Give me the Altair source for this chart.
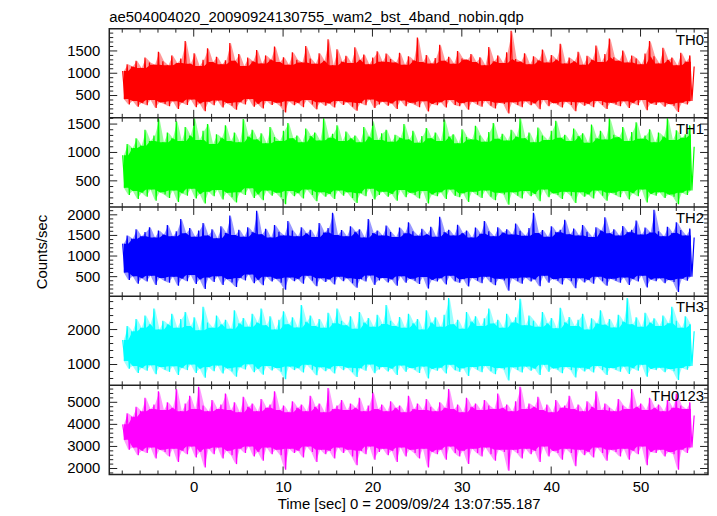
import altair as alt
import pandas as pd

TITLE = "ae504004020_20090924130755_wam2_bst_4band_nobin.qdp"
X_TITLE = "Time [sec] 0 = 2009/09/24 13:07:55.187"
Y_TITLE = "Counts/sec"
FONT = "Liberation Sans"

NAMES = ["TH0", "TH1", "TH2", "TH3", "TH0123"]
COLORS = ["#ff0000", "#00ff00", "#0000ff", "#00ffff", "#ff00ff"]
Y_DOMAINS = [[0, 2000], [40, 1610], [27, 2190], [405, 2955], [1730, 5770]]
Y_MAJOR = [[500, 1000, 1500], [500, 1000, 1500], [500, 1000, 1500, 2000],
           [1000, 2000], [2000, 3000, 4000, 5000]]
Y_MINOR_STEP = [100, 100, 100, 200, 200]
X_DOMAIN = [-9.45, 57.55]
X_MAJOR = [0, 10, 20, 30, 40, 50]
X_MINOR_STEP = 2
T_START = -7.95
T_END = 56.0

# Light-curve extremes (alternating local maxima / minima)
TH0_HI = [1050, 1200, 1150, 1280, 1120, 1350, 1240, 1190, 1480, 1270,
          1180, 1400, 1230, 1330, 1720, 1210, 1450, 1160, 1300, 1560,
          1250, 1370, 1200, 1290, 1680, 1280, 1430, 1160, 1350, 1270,
          1520, 1220, 1400, 1310, 1600, 1250, 1360, 1190, 1470, 1300,
          1240, 1610, 1330, 1210, 1450, 1280, 1760, 1180, 1540, 1260,
          1390, 1230, 1580, 1300, 1420, 1200, 1350, 1490, 1260, 1440,
          1320, 1240, 1460, 1190, 1380, 1290, 1800, 1250, 1410, 1220,
          1340, 1640, 1280, 1370, 1210, 1500, 1330, 1300, 1430, 1250,
          1360, 1180, 1590, 1270, 1400, 1230, 1470, 1950, 1320, 1260,
          1450, 1200, 1380, 1290, 1530, 1240, 1410, 1310, 1660, 1220,
          1350, 1270, 1480, 1190, 1390, 1300, 1620, 1250, 1430, 1780,
          1360, 1280, 1510, 1240, 1400, 1330, 1200, 1440, 1720, 1380,
          1220, 1570, 1300, 1350, 1180, 1460, 1260, 1400, 1150]
TH0_LO = [420, 300, 380, 250, 330, 280, 400, 220, 350, 310,
          260, 370, 200, 340, 290, 410, 240, 320, 150, 360,
          280, 390, 230, 330, 270, 180, 350, 300, 420, 250,
          310, 210, 380, 290, 340, 260, 120, 370, 280, 330,
          240, 400, 300, 190, 350, 270, 320, 230, 380, 290,
          350, 250, 160, 330, 280, 410, 220, 300, 360, 270,
          320, 200, 390, 260, 340, 300, 240, 370, 140, 310,
          280, 350, 230, 400, 290, 260, 330, 180, 360, 300,
          250, 380, 270, 210, 340, 310, 100, 350, 290, 240,
          370, 280, 320, 190, 400, 260, 330, 300, 230, 360,
          290, 150, 350, 270, 310, 240, 380, 290, 200, 340,
          300, 260, 370, 220, 330, 280, 400, 170, 320, 290,
          350, 250, 310, 270, 130, 340, 300, 380]

TH1_HI = [950, 1150, 1080, 1250, 1120, 1400, 1200, 1300, 1600, 1180,
          1350, 1250, 1550, 1200, 1450, 1300, 1600, 1220, 1380, 1500,
          1150, 1320, 1260, 1480, 1200, 1350, 1180, 1590, 1280, 1400,
          1230, 1340, 1160, 1450, 1270, 1200, 1380, 1520, 1250, 1300,
          1180, 1420, 1290, 1350, 1210, 1600, 1260, 1330, 1480, 1200,
          1370, 1250, 1300, 1180, 1450, 1280, 1550, 1220, 1340, 1400,
          1190, 1310, 1260, 1500, 1230, 1380, 1170, 1290, 1430, 1250,
          1350, 1200, 1580, 1280, 1320, 1160, 1410, 1270, 1230, 1470,
          1300, 1190, 1360, 1520, 1240, 1330, 1210, 1400, 1280, 1600,
          1250, 1350, 1180, 1440, 1300, 1220, 1380, 1560, 1260, 1310,
          1200, 1420, 1290, 1340, 1170, 1490, 1250, 1380, 1230, 1600,
          1310, 1270, 1450, 1200, 1360, 1530, 1240, 1300, 1410, 1180,
          1350, 1280, 1600, 1220, 1390, 1260, 1320, 1480, 1100]
TH1_LO = [380, 250, 320, 180, 290, 220, 350, 150, 300, 260,
          200, 330, 130, 280, 240, 360, 190, 270, 100, 310,
          230, 340, 170, 290, 210, 120, 300, 250, 370, 200,
          260, 160, 330, 240, 290, 210, 90, 320, 230, 280,
          190, 350, 250, 140, 300, 220, 270, 180, 330, 240,
          300, 200, 110, 280, 230, 360, 170, 250, 310, 220,
          270, 150, 340, 210, 290, 250, 190, 320, 100, 260,
          230, 300, 180, 350, 240, 210, 280, 130, 310, 250,
          200, 330, 220, 160, 290, 260, 80, 300, 240, 190,
          320, 230, 270, 140, 350, 210, 280, 250, 180, 310,
          240, 110, 300, 220, 260, 190, 330, 240, 150, 290,
          250, 210, 320, 170, 280, 230, 350, 120, 270, 240,
          300, 200, 260, 220, 90, 290, 250, 330]

TH2_HI = [1300, 1500, 1420, 1650, 1480, 1580, 1700, 1450, 1620, 1520,
          1750, 1480, 1600, 1900, 1550, 1680, 1470, 1620, 1800, 1500,
          1650, 1430, 1720, 1560, 1980, 1510, 1640, 1470, 1700, 1580,
          2100, 1530, 1660, 1450, 1750, 1590, 1500, 1850, 1620, 1480,
          1700, 1550, 1640, 1460, 1800, 1570, 1680, 2050, 1510, 1630,
          1480, 1720, 1590, 1650, 1450, 1900, 1560, 1620, 1500, 1740,
          1580, 1460, 1690, 1550, 1820, 1600, 1490, 1660, 1530, 1710,
          1470, 1950, 1580, 1640, 1500, 1760, 1560, 1620, 1450, 1690,
          1540, 1850, 1600, 1480, 1700, 1570, 1650, 1520, 1790, 1610,
          1490, 1680, 2050, 1560, 1630, 1470, 1720, 1580, 1640, 1880,
          1530, 1670, 1500, 1750, 1590, 1460, 1700, 1620, 1940, 1550,
          1650, 1500, 1730, 1580, 1640, 1860, 1520, 1690, 1570, 2120,
          1600, 1480, 1710, 1560, 1820, 1630, 1500, 1670, 1450]
TH2_LO = [600, 420, 510, 330, 460, 380, 520, 300, 470, 400,
          350, 500, 280, 450, 390, 540, 320, 430, 200, 480,
          370, 510, 300, 440, 360, 250, 470, 410, 550, 340,
          420, 290, 500, 380, 450, 350, 180, 480, 390, 440,
          330, 520, 400, 270, 460, 370, 430, 310, 500, 390,
          460, 340, 230, 440, 380, 530, 300, 410, 470, 360,
          430, 280, 510, 350, 450, 400, 320, 490, 210, 420,
          380, 460, 310, 520, 390, 350, 440, 260, 470, 400,
          340, 500, 370, 290, 450, 410, 160, 460, 390, 330,
          480, 380, 430, 270, 520, 350, 440, 400, 310, 470,
          390, 220, 460, 360, 420, 330, 500, 390, 280, 450,
          400, 350, 480, 300, 440, 380, 520, 240, 430, 390,
          460, 340, 420, 370, 130, 450, 400, 500]

TH3_HI = [1700, 2100, 1950, 2300, 2050, 2400, 2150, 2600, 2000, 2250,
          2150, 2450, 2050, 2300, 2500, 2100, 2350, 1980, 2650, 2200,
          2050, 2400, 2150, 2280, 2020, 2550, 2180, 2330, 2080, 2450,
          2200, 2600, 2120, 2380, 2000, 2280, 2520, 2150, 2350, 2060,
          2700, 2220, 2400, 2100, 2300, 2050, 2480, 2180, 2600, 2250,
          2120, 2380, 2020, 2500, 2200, 2330, 2080, 2420, 2160, 2700,
          2250, 2100, 2360, 2050, 2450, 2180, 2300, 2000, 2550, 2200,
          2350, 2080, 2420, 2900, 2150, 2280, 2020, 2500, 2230, 2380,
          2100, 2320, 2600, 2170, 2280, 2050, 2450, 2200, 2350, 2880,
          2120, 2400, 2250, 2080, 2500, 2180, 2330, 2040, 2620, 2210,
          2360, 2100, 2280, 2450, 2000, 2320, 2180, 2550, 2140, 2300,
          2060, 2420, 2230, 2900, 2150, 2350, 2080, 2480, 2200, 2320,
          2100, 2400, 2180, 2650, 2250, 2050, 2380, 2150, 1950]
TH3_LO = [1100, 880, 960, 760, 900, 820, 980, 720, 930, 850,
          790, 950, 700, 900, 840, 1000, 760, 880, 620, 930,
          810, 970, 740, 890, 800, 650, 920, 860, 1010, 780,
          870, 710, 960, 830, 900, 790, 580, 940, 840, 890,
          770, 990, 850, 690, 920, 810, 880, 740, 960, 840,
          910, 780, 640, 890, 820, 1000, 750, 860, 930, 800,
          880, 700, 970, 790, 900, 850, 760, 940, 600, 870,
          820, 910, 740, 990, 840, 790, 890, 670, 930, 850,
          780, 960, 810, 720, 900, 860, 540, 920, 840, 770,
          940, 820, 880, 700, 990, 790, 890, 850, 750, 930,
          840, 630, 910, 800, 870, 770, 960, 840, 700, 900,
          850, 790, 940, 730, 890, 820, 990, 650, 870, 840,
          910, 780, 870, 810, 560, 900, 850, 960]

TH0123_HI = [4000, 4500, 4350, 4800, 4600, 5200, 4700, 4900, 5500, 4650,
             5000, 4750, 5600, 4600, 4950, 5300, 4700, 5700, 4850, 4600,
             5100, 4700, 4900, 5400, 4650, 5000, 4550, 5250, 4800, 4950,
             4600, 5150, 4750, 4900, 5500, 4650, 4850, 4550, 5050, 4750,
             4900, 4600, 5300, 4800, 4950, 4550, 5650, 4700, 4850, 5100,
             4650, 4950, 4750, 5200, 4600, 4850, 5450, 4700, 4900, 4600,
             5050, 4750, 4850, 4550, 5300, 4700, 4950, 4650, 5150, 4800,
             4600, 5000, 4750, 5600, 4700, 4900, 4550, 5200, 4800, 4950,
             4650, 5100, 4850, 4700, 5400, 4750, 4900, 4600, 5050, 5700,
             4700, 4950, 4800, 5250, 4650, 4900, 4550, 5100, 4750, 4850,
             5300, 4700, 4900, 4600, 5050, 4800, 5500, 4650, 4950, 4750,
             4600, 5150, 4850, 4700, 5600, 4800, 4950, 4650, 5200, 4750,
             4900, 4600, 5100, 4750, 5400, 4850, 4700, 5000, 4400]
TH0123_LO = [3300, 2850, 2950, 2600, 2800, 2700, 2950, 2450, 2850, 2750,
             2550, 2900, 2300, 2800, 2650, 3000, 2500, 2750, 2050, 2900,
             2650, 2950, 2450, 2800, 2600, 2200, 2900, 2700, 3000, 2550,
             2750, 2350, 2950, 2650, 2850, 2600, 1950, 2900, 2700, 2800,
             2500, 3000, 2750, 2300, 2850, 2650, 2800, 2450, 2950, 2700,
             2850, 2550, 2150, 2800, 2650, 3000, 2400, 2750, 2900, 2600,
             2800, 2300, 2950, 2550, 2850, 2700, 2450, 2900, 2050, 2750,
             2650, 2850, 2400, 3000, 2700, 2550, 2800, 2200, 2900, 2700,
             2550, 2950, 2650, 2350, 2850, 2750, 1900, 2850, 2700, 2450,
             2900, 2650, 2800, 2300, 3000, 2550, 2800, 2700, 2400, 2900,
             2700, 2100, 2850, 2600, 2750, 2500, 2950, 2700, 2350, 2850,
             2750, 2550, 2900, 2400, 2800, 2650, 3000, 2150, 2750, 2700,
             2850, 2550, 2750, 2650, 1950, 2850, 2700, 2950]

HIS = [TH0_HI, TH1_HI, TH2_HI, TH3_HI, TH0123_HI]
LOS = [TH0_LO, TH1_LO, TH2_LO, TH3_LO, TH0123_LO]

NP = len(NAMES)
W = 603
PH = 89.8            # pixel height of one panel
TICK_COLOR = "#222222"
MAJ_LEN, MIN_LEN = 8, 4

XS = alt.Scale(domain=X_DOMAIN, nice=False, zero=False)
YS = alt.Scale(domain=[0, NP], nice=False, zero=False)
XAXIS = alt.Axis(values=X_MAJOR, format="d", tickSize=0, domain=False, grid=False,
                 labelPadding=5, labelFontSize=15, labelFont=FONT, labelColor="black",
                 titleFontSize=15, titleFont=FONT, titleFontWeight="normal",
                 titleColor="black", titlePadding=2)
YAXIS = alt.Axis(labels=False, ticks=False, domain=False, grid=False,
                 titleFontSize=15, titleFont=FONT, titleFontWeight="normal",
                 titleColor="black", titlePadding=60)


def X(field):
    return alt.X(field, scale=XS, axis=XAXIS, title=X_TITLE)


def Y(field):
    return alt.Y(field, scale=YS, axis=YAXIS, title=Y_TITLE)


def interleave(hi, lo):
    out = []
    for k in range(max(len(hi), len(lo))):
        if k < len(hi):
            out.append(hi[k])
        if k < len(lo):
            out.append(lo[k])
    return out


def norm(i, field):
    lo_d, hi_d = Y_DOMAINS[i]
    base = NP - 1 - i
    return f"{base} + (datum['{field}'] - ({lo_d})) / {hi_d - lo_d}"


layers = []
for i in range(NP):
    hi, lo = HIS[i], LOS[i]
    vals = interleave(hi, lo)
    n = len(vals)
    dt = (T_END - T_START) / (n - 1)
    df = pd.DataFrame({"t": [T_START + k * dt for k in range(n)], "v": vals})
    m = min(len(hi), len(lo))
    bins = pd.DataFrame({"t": [T_START + (2 * k + 0.5) * dt for k in range(m)],
                         "hi": hi[:m], "lo": lo[:m]})
    c = COLORS[i]
    top = NP - i
    bot = NP - 1 - i

    # light fringe between local maxima and minima
    layers.append(alt.Chart(bins).transform_calculate(
        yh=norm(i, "hi"), yl=norm(i, "lo")
    ).mark_area(color=c, opacity=0.4).encode(x=X("t:Q"), y=Y("yh:Q"), y2="yl:Q"))
    # dense core of the light curve
    layers.append(alt.Chart(bins).transform_window(
        core_hi="min(hi)", core_lo="max(lo)", frame=[-1, 1], sort=[alt.SortField("t")]
    ).transform_calculate(
        ch=norm(i, "core_hi"), cl=norm(i, "core_lo")
    ).mark_area(color=c).encode(x=X("t:Q"), y=Y("ch:Q"), y2="cl:Q"))
    # the light curve itself
    layers.append(alt.Chart(df).transform_calculate(yv=norm(i, "v")).mark_line(
        color=c, strokeWidth=1.2).encode(x=X("t:Q"), y=Y("yv:Q")))

    # y tick marks (inward, both sides) and tick labels
    lo_d, hi_d = Y_DOMAINS[i]
    step = Y_MINOR_STEP[i]
    minor_y = [v for v in range((lo_d // step + 1) * step, hi_d, step) if v not in Y_MAJOR[i]]
    ymaj = pd.DataFrame({"v": Y_MAJOR[i]})
    ymin = pd.DataFrame({"v": minor_y})
    for d, L in [(ymaj, MAJ_LEN), (ymin, MIN_LEN)]:
        base = alt.Chart(d).transform_calculate(yy=norm(i, "v"))
        layers.append(base.mark_rule(color=TICK_COLOR, strokeWidth=1).encode(
            y=Y("yy:Q"), x=alt.value(0), x2=alt.value(L)))
        layers.append(base.mark_rule(color=TICK_COLOR, strokeWidth=1).encode(
            y=Y("yy:Q"), x=alt.value(W), x2=alt.value(W - L)))
    layers.append(alt.Chart(ymaj).transform_calculate(yy=norm(i, "v")).mark_text(
        align="right", baseline="middle", fontSize=15, font=FONT, color="black"
    ).encode(y=Y("yy:Q"), x=alt.value(-9), text=alt.Text("v:Q", format="d")))

    # x tick marks (inward) at top and bottom of the panel
    for vals_t, L in [(X_MAJOR, MAJ_LEN),
                      ([v for v in range(-8, 58, X_MINOR_STEP) if v not in X_MAJOR], MIN_LEN)]:
        d = pd.DataFrame({"t": vals_t})
        layers.append(alt.Chart(d).transform_calculate(
            y1=f"{top}", y2=f"{top} - {L} / {PH}"
        ).mark_rule(color=TICK_COLOR, strokeWidth=1).encode(x=X("t:Q"), y=Y("y1:Q"), y2="y2:Q"))
        layers.append(alt.Chart(d).transform_calculate(
            y1=f"{bot}", y2=f"{bot} + {L} / {PH}"
        ).mark_rule(color=TICK_COLOR, strokeWidth=1).encode(x=X("t:Q"), y=Y("y1:Q"), y2="y2:Q"))

    # panel name
    layers.append(alt.Chart(pd.DataFrame({"label": [NAMES[i]]})).transform_calculate(
        yy=f"{top}"
    ).mark_text(align="right", baseline="top", fontSize=15, font=FONT, color="black", dy=4
                ).encode(x=alt.value(W - 4), y=Y("yy:Q"), text="label:N"))

# separators between panels
layers.append(alt.Chart(pd.DataFrame({"b": list(range(1, NP))})).mark_rule(
    color="#222222", strokeWidth=1.5).encode(y=Y("b:Q"), x=alt.value(0), x2=alt.value(W)))

chart = alt.layer(*layers).properties(
    width=W, height=PH * NP,
    title=alt.Title(TITLE, anchor="start", frame="group", fontSize=15, font=FONT,
                    fontWeight="normal", color="black", offset=3),
    padding={"left": 27, "top": 0, "right": 0, "bottom": 0},
).configure_view(stroke="#222222", strokeWidth=1.5)

chart.save("out.html", embed_options={"renderer": "svg", "actions": False})
